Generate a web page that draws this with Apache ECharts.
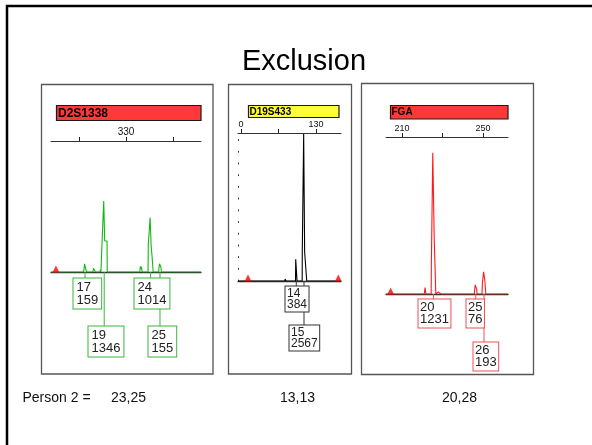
<!DOCTYPE html>
<html>
<head>
<meta charset="utf-8">
<script src="https://cdn.jsdelivr.net/npm/echarts@6/dist/echarts.min.js"></script>
<style>html,body{margin:0;padding:0;background:#fff}#c{width:592px;height:445px}</style>
</head>
<body>
<div id="c"></div>
<script>
// ---------------- data ----------------
const TITLE = 'Exclusion';
const loci = ['D2S1338', 'D19S433', 'FGA'];
const personLabel = 'Person 2 =';
const person2 = ['23,25', '13,13', '20,28'];

// Panel 1: D2S1338 (size in bp, height in RFU)
const p1Alleles = ['17', '19', '24', '25'];
const p1Sizes = [312.5, 320.7, 340.5, 344.5];
const p1Rfu = [159, 1346, 1014, 155];
const p1Ticks = [310, 330, 350];
const p1TickLabels = [330];
const p1Markers = [300.1];
const p1Trace = [
  [298, 0], [308.7, 0], [309.0, 35], [309.3, 0],
  [311.8, 0], [312.1, 50], [312.3, 155], [312.7, 155], [312.9, 50], [313.2, 0],
  [315.9, 0], [316.1, 70], [316.4, 40], [316.7, 75], [317.0, 0],
  [318.9, 0], [319.1, 45], [319.3, 0],
  [319.7, 0], [319.8, 588], [320.5, 588], [320.5, 1346], [320.9, 1346], [320.9, 588], [321.9, 588], [322.0, 0],
  [323.4, 0], [323.6, 30], [323.8, 0],
  [335.9, 0], [336.1, 105], [336.4, 60], [336.6, 100], [336.9, 0],
  [339.4, 0], [339.5, 512], [340.3, 512], [340.3, 1030], [340.7, 1030], [340.7, 512], [341.1, 512], [341.1, 303], [341.5, 303], [341.6, 0],
  [343.9, 0], [344.1, 90], [344.3, 155], [344.7, 155], [344.9, 90], [345.1, 0],
  [348.2, 0], [348.4, 25], [348.8, 25], [349.0, 0],
  [362, 0]
];

// Panel 2: D19S433
const p2Alleles = ['14', '15'];
const p2Sizes = [95.8, 109.2];
const p2Rfu = [384, 2567];
const p2Ticks = [0, 65, 130];
const p2TickLabels = [0, 130];
const p2Markers = [12.1, 168.6];
const p2Trace = [
  [-5.2, 0], [20, 0], [20.5, 20], [21, 0], [35, 0], [35.5, 15], [36, 0], [42, 0], [42.5, 15], [43, 0],
  [50, 0], [50.5, 15], [51, 0], [72, 0], [72.5, 25], [73, 0], [76, 0], [76.5, 35], [77, 15], [77.5, 55], [78, 0],
  [82, 0], [82.5, 20], [83, 0], [88, 0], [88.5, 30], [89, 0],
  [94.5, 0], [94.8, 379], [96.8, 379], [97.1, 0],
  [106.0, 0], [106.2, 506], [108.6, 506], [108.6, 2567], [110.3, 2567], [110.3, 506], [113.7, 506], [113.9, 0],
  [116, 0], [116.5, 20], [117, 0], [124, 0], [124.5, 15], [125, 0],
  [148, 0], [148.5, 15], [149, 0], [158, 0], [158.5, 25], [159, 0], [173.3, 0]
];

// Panel 3: FGA
const p3Alleles = ['20', '25', '26'];
const p3Sizes = [225.5, 246.4, 250.5];
const p3Rfu = [1231, 76, 193];
const p3Ticks = [210, 230, 250];
const p3TickLabels = [210, 250];
const p3Markers = [204.4];
const p3Trace = [
  [202.1, 0], [206.5, 0], [206.8, 12], [207.1, 0], [209.5, 0], [209.8, 10], [210.1, 0],
  [213, 0], [213.3, 10], [213.6, 0], [216.5, 0], [216.8, 10], [217.1, 0],
  [221.0, 0], [221.2, 30], [221.4, 55], [221.6, 30], [221.8, 0],
  [224.4, 0], [224.5, 253], [225.2, 253], [225.2, 1231], [225.9, 1231], [225.9, 489], [226.6, 489], [226.7, 0],
  [227.6, 0], [227.8, 17], [228.0, 0], [229.3, 0], [229.5, 15], [229.7, 0],
  [233, 0], [233.3, 10], [233.6, 0], [237, 0], [237.3, 10], [237.6, 0], [241, 0], [241.3, 10], [241.6, 0],
  [245.7, 0], [245.9, 40], [246.2, 79], [246.6, 79], [246.9, 40], [247.1, 0],
  [249.5, 0], [249.7, 96], [250.2, 96], [250.3, 193], [250.7, 193], [250.9, 120], [251.3, 110], [251.4, 0],
  [254, 0], [254.3, 10], [254.6, 0], [257.5, 0], [257.8, 12], [258.1, 0], [260.5, 0], [260.8, 10], [261.1, 0],
  [262.35, 0]
];

// ---------------- layout / style ----------------
const FONT = "'Liberation Sans', Arial, sans-serif";
const panels = [
  { alleles: p1Alleles, sizes: p1Sizes, rfu: p1Rfu, ticks: p1Ticks, tickLabels: p1TickLabels, markers: p1Markers, trace: p1Trace,
    grid: { left: 51, top: 141, width: 150, height: 131 }, xMin: 298, xMax: 362, yMax: 2483,
    color: '#12b812', boxColor: '#3cb43c', rowTop: [6, 54], rows: [0, 1, 0, 1], dx: [-12, -16, -17, -12],
    font: 13, lh: 13, pad: [2, 3], tickFont: 10, dotted: false },
  { alleles: p2Alleles, sizes: p2Sizes, rfu: p2Rfu, ticks: p2Ticks, tickLabels: p2TickLabels, markers: p2Markers, trace: p2Trace,
    grid: { left: 238, top: 133, width: 103, height: 148 }, xMin: -5.2, xMax: 173.3, yMax: 2584,
    color: '#000000', boxColor: '#333333', rowTop: [5, 44], rows: [0, 1], dx: [-11, -15],
    font: 12, lh: 11.5, pad: [1, 1.5], tickFont: 9, dotted: true },
  { alleles: p3Alleles, sizes: p3Sizes, rfu: p3Rfu, ticks: p3Ticks, tickLabels: p3TickLabels, markers: p3Markers, trace: p3Trace,
    grid: { left: 386, top: 137, width: 122, height: 157 }, xMin: 202.1, xMax: 262.35, yMax: 1368,
    color: '#ff1a1a', boxColor: '#f05050', rowTop: [5, 48], rows: [0, 0, 1], dx: [-15, -10, -11],
    font: 13, lh: 12.5, pad: [1.5, 1.5], tickFont: 9, dotted: false }
];

const grids = [], xAxes = [], yAxes = [], series = [];
panels.forEach((p, i) => {
  grids.push(Object.assign({ containLabel: false }, p.grid));
  xAxes.push({
    type: 'value', gridIndex: i, position: 'top', min: p.xMin, max: p.xMax,
    axisLine: { show: true, onZero: false, lineStyle: { color: '#333', width: 1 } },
    axisTick: { show: true, length: 4, customValues: p.ticks, lineStyle: { color: '#222', width: 1 } },
    axisLabel: { show: true, customValues: p.tickLabels, fontSize: p.tickFont, color: '#111', margin: 4, fontFamily: FONT },
    splitLine: { show: false }
  });
  xAxes.push({
    type: 'value', gridIndex: i, position: 'bottom', min: p.xMin, max: p.xMax,
    axisLine: { show: true, onZero: false, lineStyle: { color: '#333', width: 1.3 } },
    axisTick: { show: false }, axisLabel: { show: false }, splitLine: { show: false }
  });
  yAxes.push({
    type: 'value', gridIndex: i, min: 0, max: p.yMax, show: p.dotted,
    axisLine: { show: p.dotted, onZero: false, lineStyle: { color: '#333', width: 1, type: [1, 10.7] } },
    axisTick: { show: false }, axisLabel: { show: false }, splitLine: { show: false }
  });
  series.push({
    type: 'line', xAxisIndex: 2 * i, yAxisIndex: i, data: p.trace, showSymbol: false, symbol: 'none',
    lineStyle: { color: p.color, width: 1.1 }, z: 3, animation: false
  });
  series.push({
    type: 'scatter', xAxisIndex: 2 * i, yAxisIndex: i, data: p.markers.map(v => [v, 0]),
    symbol: 'triangle', symbolSize: [7, 7], symbolOffset: [0, -3], itemStyle: { color: '#ff0000' }, z: 4, animation: false
  });
  const alleleData = p.sizes.map((s, k) => [s, 0, k]);
  series.push({
    type: 'custom', xAxisIndex: 2 * i, yAxisIndex: i, data: alleleData, z: 5, animation: false, clip: false,
    renderItem: (params, api) => {
      const k = params.dataIndex;
      const pt = api.coord([api.value(0), 0]);
      const top = pt[1] + p.rowTop[p.rows[k]];
      return { type: 'line', shape: { x1: pt[0], y1: pt[1], x2: pt[0], y2: top },
        style: { stroke: p.boxColor, lineWidth: 1 } };
    }
  });
  series.push({
    type: 'custom', xAxisIndex: 2 * i, yAxisIndex: i, data: alleleData, z: 6, animation: false, clip: false,
    renderItem: (params, api) => {
      const k = params.dataIndex;
      const pt = api.coord([api.value(0), 0]);
      const top = pt[1] + p.rowTop[p.rows[k]];
      return { type: 'text', x: Math.round(pt[0] + p.dx[k]) + 0.5, y: Math.round(top) + 0.5,
        style: { text: p.alleles[k] + '\n' + p.rfu[k], fill: '#222', font: p.font + 'px ' + FONT,
          align: 'left', verticalAlign: 'top', lineHeight: p.lh, padding: p.pad,
          backgroundColor: '#fff', borderColor: p.boxColor, borderWidth: 1 } };
    }
  });
});

const graphic = [
  { type: 'rect', shape: { x: 7, y: 6, width: 700, height: 600 }, style: { fill: 'none', stroke: '#000', lineWidth: 2.5 }, z: 1 },
  { type: 'rect', shape: { x: 41.5, y: 84.5, width: 171.5, height: 289.5 }, style: { fill: 'none', stroke: '#555', lineWidth: 1.3 }, z: 1 },
  { type: 'rect', shape: { x: 228.5, y: 84.5, width: 123, height: 289.5 }, style: { fill: 'none', stroke: '#555', lineWidth: 1.3 }, z: 1 },
  { type: 'rect', shape: { x: 361.5, y: 83.5, width: 172, height: 291 }, style: { fill: 'none', stroke: '#555', lineWidth: 1.3 }, z: 1 },
  { type: 'rect', shape: { x: 56.5, y: 105.5, width: 144.5, height: 15 }, style: { fill: '#ff3838', stroke: '#1a1a1a', lineWidth: 1.2 }, z: 2 },
  { type: 'text', x: 58, y: 113.5, style: { text: loci[0], font: 'bold 12px ' + FONT, fill: '#000', textVerticalAlign: 'middle' }, z: 3 },
  { type: 'rect', shape: { x: 248.5, y: 105.5, width: 90.5, height: 12 }, style: { fill: '#ffff33', stroke: '#1a1a1a', lineWidth: 1.2 }, z: 2 },
  { type: 'text', x: 249.5, y: 112, style: { text: loci[1], font: 'bold 10px ' + FONT, fill: '#000', textVerticalAlign: 'middle' }, z: 3 },
  { type: 'rect', shape: { x: 390.5, y: 105.5, width: 117.5, height: 13.5 }, style: { fill: '#ff3838', stroke: '#1a1a1a', lineWidth: 1.2 }, z: 2 },
  { type: 'text', x: 391.5, y: 112.5, style: { text: loci[2], font: 'bold 10px ' + FONT, fill: '#000', textVerticalAlign: 'middle' }, z: 3 },
  { type: 'text', x: 304, y: 62, style: { text: TITLE, font: '29px ' + FONT, fill: '#000', textAlign: 'center', textVerticalAlign: 'middle' }, z: 3 },
  { type: 'text', x: 22.5, y: 398, style: { text: personLabel, font: '14px ' + FONT, fill: '#111', textVerticalAlign: 'middle' }, z: 3 },
  { type: 'text', x: 111, y: 398, style: { text: person2[0], font: '14px ' + FONT, fill: '#111', textVerticalAlign: 'middle' }, z: 3 },
  { type: 'text', x: 280, y: 398, style: { text: person2[1], font: '14px ' + FONT, fill: '#111', textVerticalAlign: 'middle' }, z: 3 },
  { type: 'text', x: 442, y: 398, style: { text: person2[2], font: '14px ' + FONT, fill: '#111', textVerticalAlign: 'middle' }, z: 3 }
];

const chart = echarts.init(document.getElementById('c'), null, { renderer: 'canvas' });
chart.setOption({
  animation: false,
  backgroundColor: '#ffffff',
  grid: grids, xAxis: xAxes, yAxis: yAxes, series: series, graphic: graphic
});
</script>
</body>
</html>
